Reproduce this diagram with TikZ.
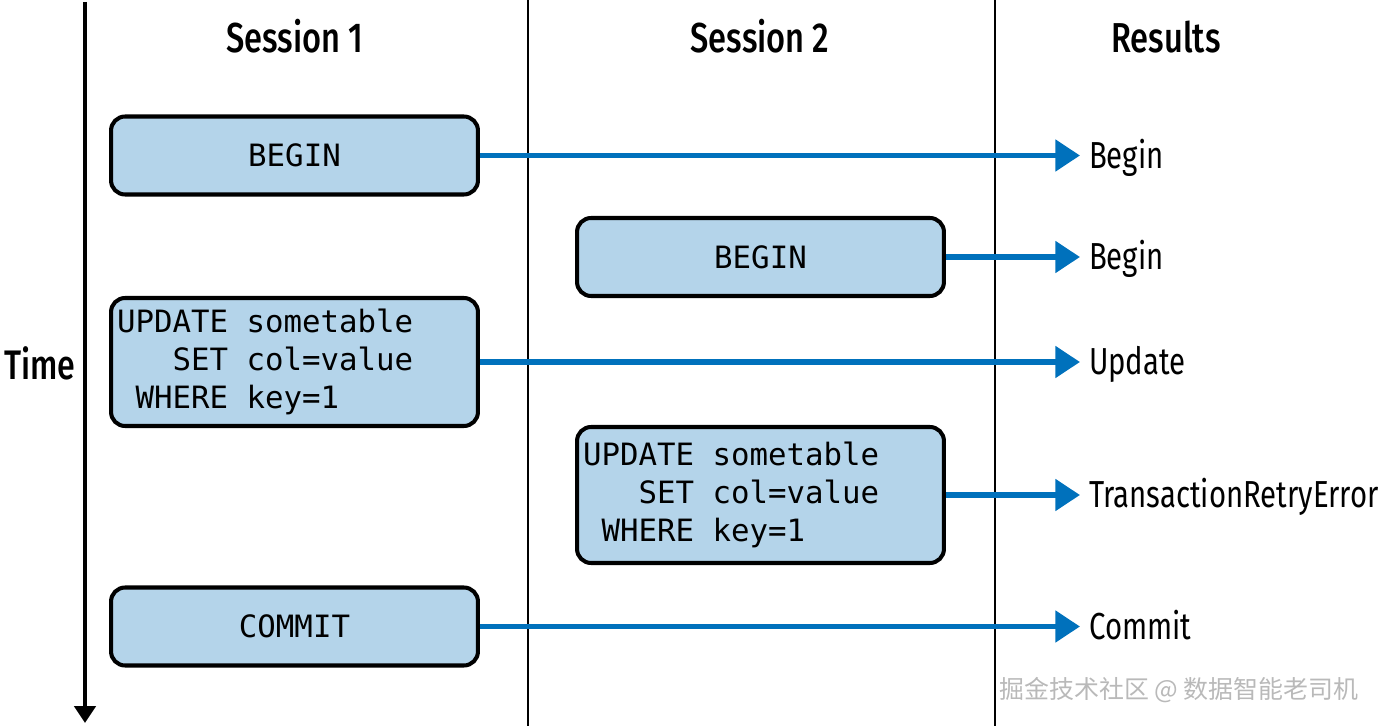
\documentclass[tikz,border=0pt]{standalone}
\usepackage{fontspec}
\setmonofont{DejaVu Sans Mono}
\newfontfamily\labelfont[FakeStretch=0.78]{Fira Sans}
\newfontfamily\headfont[FakeStretch=0.78]{Fira Sans Medium}
\newfontfamily\cjkfont{Noto Sans CJK SC}
\newcommand\sqlfont{\ttfamily\fontsize{17.5}{21.8}\selectfont}
\newcommand\sqlgap{\phantom{x}}
\usepackage{xcolor}
\definecolor{boxblue}{RGB}{180,212,234}
\definecolor{arrowblue}{RGB}{0,113,188}
\usetikzlibrary{arrows.meta, positioning}
\tikzset{
  sqlbox/.style={
    rectangle, rounded corners=8pt, draw=black, line width=2.3pt, fill=boxblue,
    minimum width=7.34cm, minimum height=1.56cm, text width=7.1cm,
    inner xsep=0.12cm, font=\sqlfont
  },
  header/.style={
    inner sep=0pt, text height=16.4pt, text depth=0pt,
    font=\headfont\fontsize{23.8}{26}\selectfont
  },
  timelabel/.style={
    inner sep=0pt, text height=15.6pt, text depth=0pt,
    font=\headfont\fontsize{23.5}{26}\selectfont
  },
  result/.style={
    anchor=west, inner xsep=5pt, inner ysep=0pt,
    text height=14.7pt, text depth=0pt,
    font=\labelfont\fontsize{21.4}{24}\selectfont
  },
  watermark/.style={
    text=gray!55, font=\cjkfont\fontsize{14.2}{16}\selectfont
  },
  arrow/.style={line width=3.1pt, color=arrowblue, -{Triangle[length=14pt, width=17.5pt]}},
  timeline/.style={line width=2.3pt, -{Triangle[length=9.6pt, width=12pt]}},
  divider/.style={line width=1pt},
}

\begin{document}
\begin{tikzpicture}[x=0.02cm, y=-0.02cm]
  \useasboundingbox (0,0) rectangle (1380,726);

  \draw [divider] (528,0) -- (528,726);
  \draw [divider] (995,0) -- (995,726);

  \coordinate (ttop) at (85,2);
  \coordinate (tbot) at (85,723);
  \coordinate (tmid) at (85,366);
  \draw [timeline] (ttop) -- (tbot);
  \node (time) [timelabel, left=0.18cm of tmid] {Time};

  \node (head1) [header] at (295,38)  {Session 1};
  \node (head2) [header] at (760,38)  {Session 2};
  \node (head3) [header] at (1166,38) {Results};

  \node (s1begin)  [sqlbox, align=center] at (294.5,155.5) {BEGIN};
  \node (s2begin)  [sqlbox, align=center] at (760.5,257)   {BEGIN};
  \node (s1update) [sqlbox, align=left, minimum height=2.56cm] at (294.5,362)
    {UPDATE\sqlgap sometable\\\phantom{UPD}SET\sqlgap col=value\\\phantom{U}WHERE\sqlgap key=1};
  \node (s2update) [sqlbox, align=left, minimum height=2.72cm] at (760.5,495)
    {UPDATE\sqlgap sometable\\\phantom{UPD}SET\sqlgap col=value\\\phantom{U}WHERE\sqlgap key=1};
  \node (s1commit) [sqlbox, align=center] at (294.5,626.5) {COMMIT};

  \node (r1) [result] at (1080,155.5) {Begin};
  \node (r2) [result] at (1080,257)   {Begin};
  \node (r3) [result] at (1080,362)   {Update};
  \node (r4) [result] at (1080,495)   {TransactionRetryError};
  \node (r5) [result] at (1080,626.5) {Commit};

  \draw [arrow] (s1begin)  -- (r1);
  \draw [arrow] (s2begin)  -- (r2);
  \draw [arrow] (s1update) -- (r3);
  \draw [arrow] (s2update) -- (r4);
  \draw [arrow] (s1commit) -- (r5);

  \node (mark) [watermark] at (1179,690) {掘金技术社区 @ 数据智能老司机};
\end{tikzpicture}
\end{document}
